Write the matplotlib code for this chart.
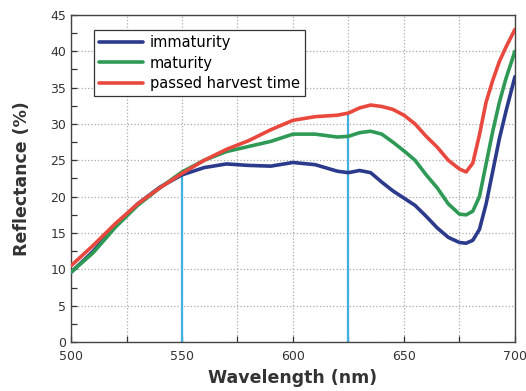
import matplotlib
matplotlib.use("Agg")
import matplotlib.pyplot as plt
from matplotlib.ticker import MultipleLocator

# data
wavelength = [500, 510, 520, 530, 540, 550, 560, 570, 580, 590, 600, 610, 620, 625,
              630, 635, 640, 645, 650, 655, 660, 665, 670, 675, 678, 681, 684, 687,
              690, 693, 696, 700]
immaturity = [9.6, 12.5, 16.0, 19.0, 21.3, 23.0, 24.0, 24.5, 24.3, 24.2, 24.7, 24.4, 23.5, 23.3,
              23.6, 23.3, 22.0, 20.8, 19.8, 18.8, 17.3, 15.7, 14.4, 13.7, 13.6, 14.0, 15.5, 19.0,
              23.5, 28.0, 31.8, 36.5]
maturity = [9.6, 12.3, 15.8, 18.8, 21.2, 23.4, 25.0, 26.2, 26.9, 27.6, 28.6, 28.6, 28.2, 28.3,
            28.8, 29.0, 28.6, 27.5, 26.3, 25.0, 23.0, 21.2, 19.0, 17.6, 17.5, 18.0, 20.0, 24.5,
            29.0, 33.0, 36.3, 40.0]
passed = [10.5, 13.3, 16.3, 19.0, 21.2, 23.2, 25.0, 26.5, 27.7, 29.2, 30.5, 31.0, 31.2, 31.5,
          32.2, 32.6, 32.4, 32.0, 31.2, 30.0, 28.3, 26.8, 25.0, 23.8, 23.4, 24.6, 28.5, 33.0,
          36.0, 38.6, 40.6, 43.0]
series_labels = ["immaturity", "maturity", "passed harvest time"]
series_colors = ["#2c3a8c", "#2e9a55", "#e8483e"]

marker_x = [550, 625]
marker_top = [23.2, 31.5]

fig = plt.figure(figsize=(5.26, 3.91), dpi=100)
ax = fig.add_axes([0.135, 0.125, 0.844, 0.837])

for x, top in zip(marker_x, marker_top):
    ax.vlines(x, 0, top, color="#3fb2e2", lw=1.6, zorder=2)

for vals, lab, col in zip([immaturity, maturity, passed], series_labels, series_colors):
    ax.plot(wavelength, vals, color=col, lw=2.6, label=lab, zorder=3,
            solid_joinstyle="round", solid_capstyle="round")

ax.set_xlim(500, 700)
ax.set_ylim(0, 45)
ax.xaxis.set_major_locator(MultipleLocator(50))
ax.xaxis.set_minor_locator(MultipleLocator(25))
ax.yaxis.set_major_locator(MultipleLocator(5))
ax.yaxis.set_minor_locator(MultipleLocator(2.5))
ax.tick_params(which="both", direction="in", length=4, width=0.9, labelsize=9,
               colors="#333333")
ax.tick_params(axis="x", pad=6)
ax.grid(axis="x", which="both", linestyle=":", color="#aaaaaa", lw=0.9)
ax.grid(axis="y", which="major", linestyle=":", color="#aaaaaa", lw=0.9)
ax.set_axisbelow(True)
for sp in ax.spines.values():
    sp.set_color("#444444")
    sp.set_linewidth(1.0)

ax.set_xlabel("Wavelength (nm)", fontsize=12.5, fontweight="bold", color="#333333",
              labelpad=4)
ax.set_ylabel("Reflectance (%)", fontsize=12.5, fontweight="bold", color="#333333",
              labelpad=14)

leg = ax.legend(loc="upper left", bbox_to_anchor=(0.035, 0.975), fontsize=10.5,
                handlelength=3.0, fancybox=False, framealpha=1, edgecolor="#333333",
                borderpad=0.35, labelspacing=0.35, handletextpad=0.5)
leg.get_frame().set_linewidth(0.9)

fig.savefig("out.png", dpi=100)
